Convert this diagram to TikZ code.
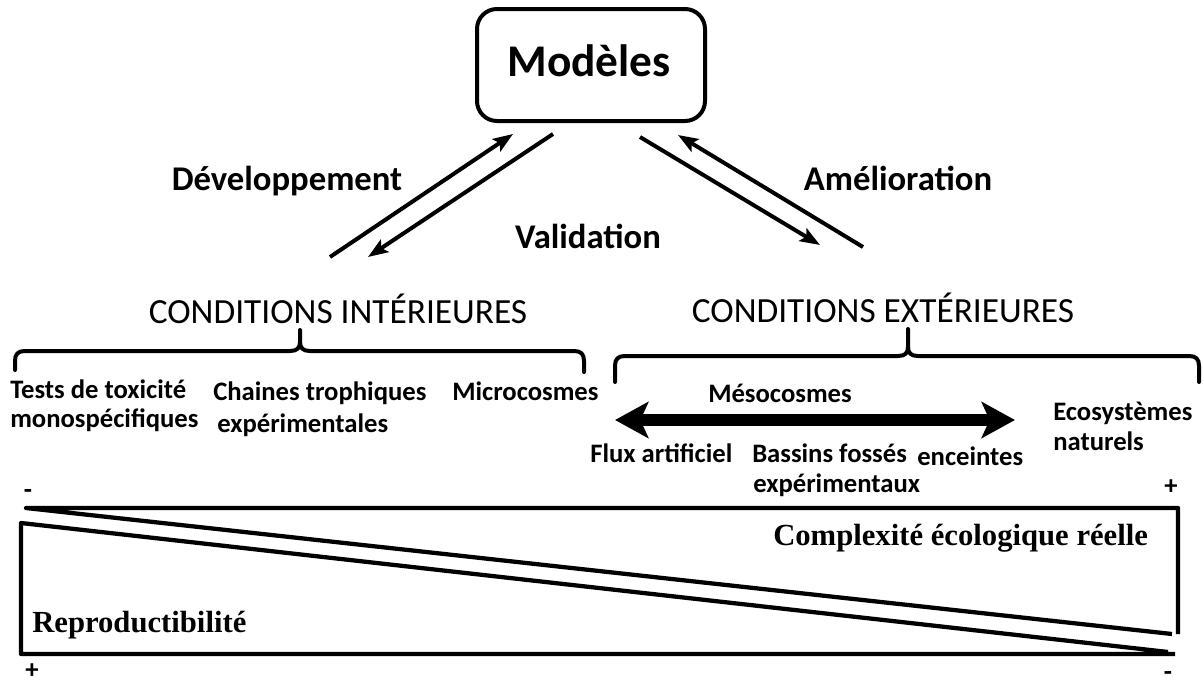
\documentclass[tikz,border=0pt]{standalone}
\usepackage{fontspec}
\setmainfont{Carlito}
\newfontfamily\tnr{Liberation Serif}
\usetikzlibrary{arrows.meta}
\begin{document}
\begin{tikzpicture}[x=0.75pt,y=-0.75pt,
  lbl/.style={inner sep=0pt,font=\fontsize{26}{30}\selectfont\bfseries},
  head/.style={inner sep=0pt,font=\fontsize{26.5}{30}\selectfont},
  item/.style={inner sep=0pt,anchor=base west,font=\fontsize{20}{24}\selectfont\bfseries},
  sgn/.style={inner sep=0pt,font=\fontsize{20}{22}\selectfont\bfseries},
  serifl/.style={inner sep=0pt,anchor=base west,font=\fontsize{23}{27}\selectfont\tnr\bfseries},
  thinarrow/.style={line width=3pt,-{Stealth[length=15pt,width=11pt,inset=3pt]}},
  bigarrow/.style={line width=9pt,{Stealth[length=25pt,width=27pt,inset=6pt]}-{Stealth[length=25pt,width=27pt,inset=6pt]}},
  bracestyle/.style={line width=3pt,line cap=round,line join=round},
  tri/.style={line width=3.2pt,line join=round}]
\useasboundingbox (0,0) rectangle (1204,686);

% Model box
\node[draw,line width=3pt,rounded corners=15pt,minimum width=171pt,minimum height=84pt,inner sep=0pt] (box) at (591,65) {};
\node[inner sep=0pt,anchor=base,font=\fontsize{34}{38}\selectfont\bfseries] (mod) at (589,76) {Modèles};

% labels
\node[lbl,anchor=base] (dev) at (287,190) {Développement};
\node[lbl,anchor=base] (ame) at (898,190) {Amélioration};
\node[lbl,anchor=base] (val) at (588,248) {Validation};

% arrows
\coordinate (a1s) at (330,257); \coordinate (a1e) at (513,134);
\coordinate (a2s) at (553,134); \coordinate (a2e) at (368,257);
\coordinate (a3s) at (640,137); \coordinate (a3e) at (820,245);
\coordinate (a4s) at (863,247); \coordinate (a4e) at (678,135);
\draw[thinarrow] (a1s) -- (a1e);
\draw[thinarrow] (a2s) -- (a2e);
\draw[thinarrow] (a3s) -- (a3e);
\draw[thinarrow] (a4s) -- (a4e);

% headings
\node[head,anchor=base] (ci) at (338,323) {CONDITIONS INTÉRIEURES};
\node[head,anchor=base] (ce) at (883,322) {CONDITIONS EXTÉRIEURES};

% braces
\draw[bracestyle] (15,370) -- (15,361) .. controls (15,354) and (18,351) .. (25,351) -- (290,351)
  .. controls (297,351) and (300,348) .. (300,342) -- (300,330)
  (300,342) .. controls (300,348) and (303,351) .. (310,351) -- (574,351)
  .. controls (581,351) and (584,354) .. (584,361) -- (584,372);
\draw[bracestyle] (615,382) -- (615,366) .. controls (615,359) and (618,356) .. (625,356) -- (898,356)
  .. controls (905,356) and (908,353) .. (908,347) -- (908,329)
  (908,347) .. controls (908,353) and (911,356) .. (918,356) -- (1189,356)
  .. controls (1196,356) and (1199,359) .. (1199,366) -- (1199,382);

% items
\node[item] (t1) at (10,398) {Tests de toxicité};
\node[item] (t2) at (10,427) {monospécifiques};
\node[item] (c1) at (213,400) {Chaines trophiques};
\node[item] (c2) at (217,432) {expérimentales};
\node[item] (mic) at (452,400) {Microcosmes};
\node[item] (mes) at (708,402) {Mésocosmes};
\node[item] (flux) at (590,462) {Flux artificiel};
\node[item] (b1) at (752,462) {Bassins fossés};
\node[item] (b2) at (753,492) {expérimentaux};
\node[item] (enc) at (917,465) {enceintes};
\node[item] (e1) at (1053,420) {Ecosystèmes};
\node[item] (e2) at (1053,450) {naturels};

\coordinate (dl) at (615,420); \coordinate (dr) at (1015,420);
\draw[bigarrow] (dl) -- (dr);

% triangles
\draw[tri] (1172,634) -- (26,508) -- (1178,508) -- (1178,634);
\draw[tri] (1168,652) -- (21,523) -- (21,654) -- (1175,654);

\node[serifl] (cx) at (773,545) {Complexité écologique réelle};
\node[serifl] (rp) at (32,632) {Reproductibilité};

\node[sgn] (m1) at (28,494) {-};
\node[sgn] (p1) at (1171,487) {+};
\node[sgn] (p2) at (32,671) {+};
\node[sgn] (m2) at (1168,676) {-};
\end{tikzpicture}
\end{document}
